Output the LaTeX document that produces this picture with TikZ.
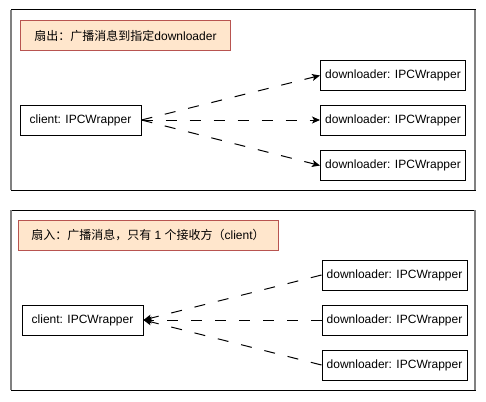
\documentclass[tikz,border=0pt]{standalone}
\usepackage{fontspec}
\setmainfont{Liberation Sans}
\newfontfamily\cjk{Noto Sans CJK SC}
\usetikzlibrary{arrows.meta}
\definecolor{titlefill}{HTML}{FFE6CC}
\definecolor{titleline}{HTML}{B85450}
\begin{document}
\begin{tikzpicture}[x=1pt,y=-1pt,line width=1pt,
    box/.style={draw,fill=white,minimum height=30pt,inner sep=0pt,font=\fontsize{12}{14}\selectfont},
    title/.style={box,draw=titleline,fill=titlefill},
    link/.style={dash pattern=on 11pt off 13pt}]
        \useasboundingbox(0,0)rectangle(486,401);
        % fan out
        \draw(11,10)rectangle(475,190);
        \draw[gray,line width=2pt](11,10)--(11,190)(475,10)--(475,190);
        \node[title,minimum width=210pt](0)at(125.5,35.5){{\cjk 扇出：广播消息到指定}downloader};
        \node[box,minimum width=121pt](1)at(80.5,120){client: IPCWrapper};
        \node[box,minimum width=145pt](2)at(393,75.5){downloader: IPCWrapper};
        \node[box,minimum width=145pt](3)at(393,120){downloader: IPCWrapper};
        \node[box,minimum width=145pt](4)at(393,165.5){downloader: IPCWrapper};
        \draw[link,-{Stealth[length=8pt,width=7pt,inset=2pt]}](1.east)--(2.west);
        \draw[link,-{Stealth[length=8pt,width=7pt,inset=2pt]}](1.east)--(3.west);
        \draw[link,-{Stealth[length=8pt,width=7pt,inset=2pt]}](1.east)--(4.west);
        % fan in
        \draw(11,210)rectangle(475,390);
        \draw[gray,line width=2pt](11,210)--(11,390)(475,210)--(475,390);
        \node[title,minimum width=260pt](5)at(148,235.5){{\cjk 扇入：广播消息，只有} 1 {\cjk 个接收方（}client{\cjk ）}};
        \node[box,minimum width=121pt](6)at(82.5,320){client: IPCWrapper};
        \node[box,minimum width=145pt](7)at(394.5,275){downloader: IPCWrapper};
        \node[box,minimum width=145pt](8)at(394.5,320){downloader: IPCWrapper};
        \node[box,minimum width=145pt](9)at(394.5,365){downloader: IPCWrapper};
        \draw[link,-{Stealth[length=8pt,width=7pt,inset=2pt]}](7.west)--(6.east);
        \draw[link,-{Stealth[length=8pt,width=7pt,inset=2pt]}](8.west)--(6.east);
        \draw[link,-{Stealth[length=8pt,width=7pt,inset=2pt]}](9.west)--(6.east);
    \end{tikzpicture}
\end{document}
